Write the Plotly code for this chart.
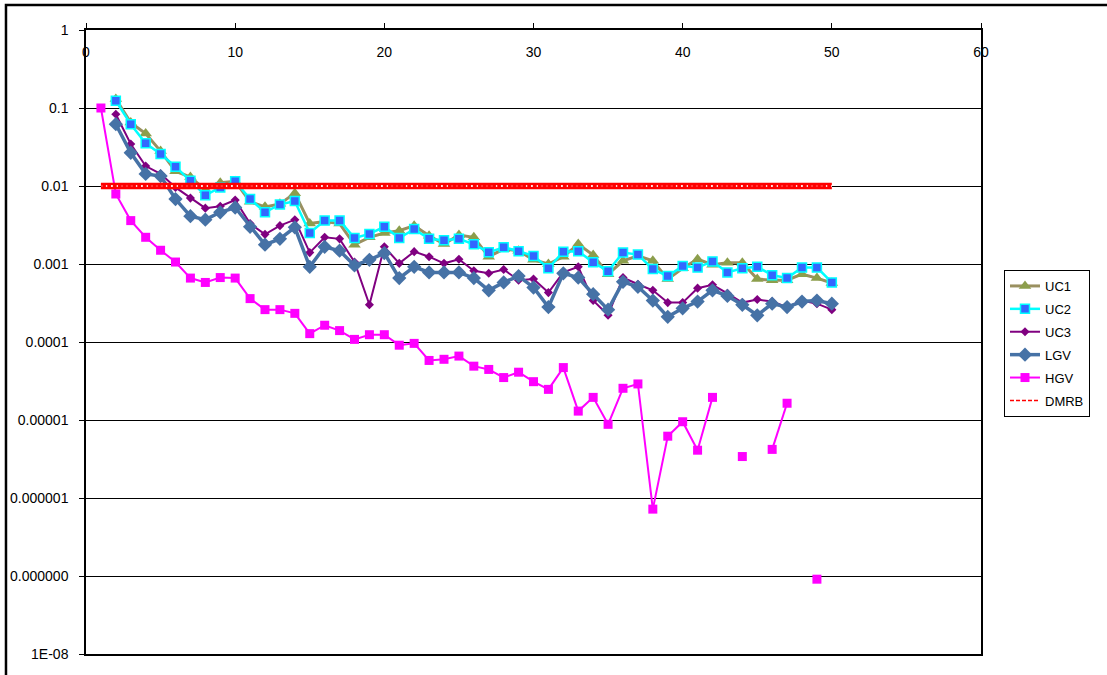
import plotly.graph_objects as go

# Step index 1..50
steps = list(range(1, 51))

uc1 = [None, 0.13, 0.065, 0.047, 0.028, 0.0155, 0.013, 0.0089, 0.011, 0.0115,
       0.0063, 0.0054, 0.0059, 0.0081, 0.0033, 0.0035, 0.0033, 0.00177, 0.0022, 0.0025,
       0.00267, 0.0031, 0.0023, 0.0018, 0.00235, 0.0022, 0.00124, 0.00155, 0.00148, 0.00113,
       0.001, 0.00124, 0.0018, 0.0013, 0.00074, 0.0011, 0.00127, 0.0011, 0.00064, 0.00088,
       0.00115, 0.00098, 0.00104, 0.00104, 0.00064, 0.00062, 0.00062, 0.00074, 0.00066, 0.00057]

uc2 = [None, 0.124, 0.062, 0.0352, 0.0257, 0.0177, 0.0117, 0.0076, 0.0096, 0.0115,
       0.0068, 0.0046, 0.0058, 0.0064, 0.0025, 0.0036, 0.0036, 0.00215, 0.00243, 0.0030,
       0.00215, 0.0028, 0.0021, 0.00201, 0.0021, 0.00179, 0.00141, 0.00164, 0.00146, 0.00127,
       0.00088, 0.00144, 0.00146, 0.00105, 0.00081, 0.0014, 0.00132, 0.00086, 0.0007, 0.00094,
       0.0009, 0.00108, 0.00078, 0.00088, 0.00092, 0.00072, 0.00066, 0.0009, 0.0009, 0.00058]

uc3 = [None, 0.083, 0.0346, 0.018, 0.0143, 0.0096, 0.007, 0.0052, 0.0055, 0.0066,
       0.0033, 0.0024, 0.0031, 0.0037, 0.0014, 0.0022, 0.0021, 0.00106, 0.0003, 0.00166,
       0.00102, 0.00144, 0.00124, 0.00102, 0.00115, 0.00082, 0.00076, 0.00085, 0.00062, 0.00064,
       0.00043, 0.00078, 0.00092, 0.00034, 0.00022, 0.00067, 0.00055, 0.00046, 0.00032, 0.00032,
       0.00049, 0.00054, 0.00042, 0.00032, 0.00035, 0.00033, 0.00028, 0.00034, 0.00031, 0.00026]

lgv = [None, 0.062, 0.0267, 0.0143, 0.0134, 0.0068, 0.0041, 0.0037, 0.0046, 0.0053,
       0.003, 0.00177, 0.0021, 0.00295, 0.00092, 0.00166, 0.00148, 0.00096, 0.00113, 0.00138,
       0.00066, 0.00092, 0.00078, 0.00078, 0.00078, 0.00066, 0.00046, 0.00058, 0.0007, 0.0005,
       0.00028, 0.00076, 0.00067, 0.00041, 0.00026, 0.00059, 0.00051, 0.00034, 0.00021, 0.00027,
       0.00033, 0.00046, 0.00039, 0.0003, 0.00022, 0.00031, 0.00028, 0.00033, 0.00034, 0.00031]

hgv = [0.1, 0.0079, 0.0036, 0.0022, 0.0015, 0.00106, 0.00066, 0.00058, 0.00067, 0.00066,
       0.00036, 0.00026, 0.00026, 0.000233, 0.000128, 0.000164, 0.00014, 0.000108, 0.000124, 0.000124,
       0.000091, 0.000096, 5.8e-5, 6.0e-5, 6.6e-5, 4.9e-5, 4.45e-5, 3.5e-5, 4.1e-5, 3.1e-5,
       2.47e-5, 4.7e-5, 1.3e-5, 1.95e-5, 8.8e-6, 2.55e-5, 2.9e-5, 7.2e-7, 6.2e-6, 9.5e-6,
       4.1e-6, 1.95e-5, None, 3.4e-6, None, 4.2e-6, 1.64e-5, None, 9.1e-8, None]

dmrb = [0.01] * 50

x_ticks = [0, 10, 20, 30, 40, 50, 60]
y_ticks = [1, 0.1, 0.01, 0.001, 0.0001, 0.00001, 0.000001, 1e-7, 1e-8]
y_tick_text = ["1", "0.1", "0.01", "0.001", "0.0001", "0.00001", "0.000001", "0.000000", "1E-08"]

FONT = "Liberation Sans, Arial, sans-serif"

fig = go.Figure()

fig.add_trace(go.Scatter(
    x=steps, y=uc1, name="UC1", mode="lines+markers", legendgroup="uc1",
    line=dict(color="#9A9060", width=3),
    marker=dict(symbol="triangle-up", size=11, color="#8C9E4C"),
))
fig.add_trace(go.Scatter(
    x=steps, y=uc2, name="UC2", mode="lines+markers", legendgroup="uc2",
    line=dict(color="#00FFFF", width=2.5),
    marker=dict(symbol="square", size=9, color="#3366FF", line=dict(color="#00FFFF", width=1.5)),
))
fig.add_trace(go.Scatter(
    x=steps, y=uc3, name="UC3", mode="lines+markers", legendgroup="uc3",
    line=dict(color="#800080", width=2),
    marker=dict(symbol="diamond", size=7, color="#800080"),
))
fig.add_trace(go.Scatter(
    x=steps, y=lgv, name="LGV", mode="lines+markers", legendgroup="lgv",
    line=dict(color="#4672A6", width=3.5),
    marker=dict(symbol="diamond", size=11, color="#4672A6"),
))
fig.add_trace(go.Scatter(
    x=steps, y=hgv, name="HGV", mode="lines+markers", legendgroup="hgv",
    line=dict(color="#FF00FF", width=2),
    marker=dict(symbol="square", size=9, color="#FF00FF"),
))
# DMRB threshold: thin dashed entry for the legend, then a thick dotted band on top
fig.add_trace(go.Scatter(
    x=steps, y=dmrb, name="DMRB", mode="lines", legendgroup="dmrb", xaxis="x2",
    line=dict(color="#FF0000", width=1.5, dash="4px,2px"),
))
fig.add_trace(go.Scatter(
    x=steps, y=dmrb, mode="lines", showlegend=False, hoverinfo="skip",
    line=dict(color="#FF0000", width=6.5),
))
fig.add_trace(go.Scatter(
    x=steps, y=dmrb, mode="lines", showlegend=False, hoverinfo="skip",
    line=dict(color="#FFE0E0", width=2, dash="2px,3px"),
))

fig.update_layout(
    width=1107, height=675,
    margin=dict(l=86, r=126, t=30, b=21, pad=0, autoexpand=False),
    paper_bgcolor="white", plot_bgcolor="white",
    font=dict(family=FONT, size=14, color="black"),
    xaxis=dict(
        range=[0, 60], side="top", tickvals=x_ticks, showticklabels=False,
        ticks="outside", ticklen=5, tickcolor="black", tickwidth=1,
        showline=True, linecolor="black", linewidth=1.5, mirror=True,
        showgrid=False, zeroline=False, automargin=False,
    ),
    xaxis2=dict(
        range=[0, 60], overlaying="x", side="bottom", anchor="free", position=0.98,
        tickvals=x_ticks, ticktext=[str(v) for v in x_ticks], ticks="",
        showline=False, showgrid=False, zeroline=False, automargin=False,
        tickfont=dict(family=FONT, size=14, color="black"),
    ),
    yaxis=dict(
        type="log", range=[-8, 0], tickvals=y_ticks, ticktext=y_tick_text,
        ticks="outside", ticklen=5, tickcolor="black", tickwidth=1,
        ticklabelstandoff=8, automargin=False,
        showline=True, linecolor="black", linewidth=1.5, mirror=True,
        showgrid=True, gridcolor="black", gridwidth=1, zeroline=False,
        tickfont=dict(family=FONT, size=14, color="black"),
    ),
    legend=dict(
        x=1.0257, y=0.6154, xanchor="left", yanchor="top",
        bgcolor="white", bordercolor="black", borderwidth=1,
        font=dict(family=FONT, size=13, color="black"),
        tracegroupgap=3,
    ),
    shapes=[dict(
        type="rect", xref="paper", yref="paper",
        x0=-0.0894, x1=1.3, y0=-0.2, y1=1.0401,
        line=dict(color="black", width=2.5), fillcolor="rgba(0,0,0,0)", layer="below",
    )],
)

fig.write_html("out.html")
